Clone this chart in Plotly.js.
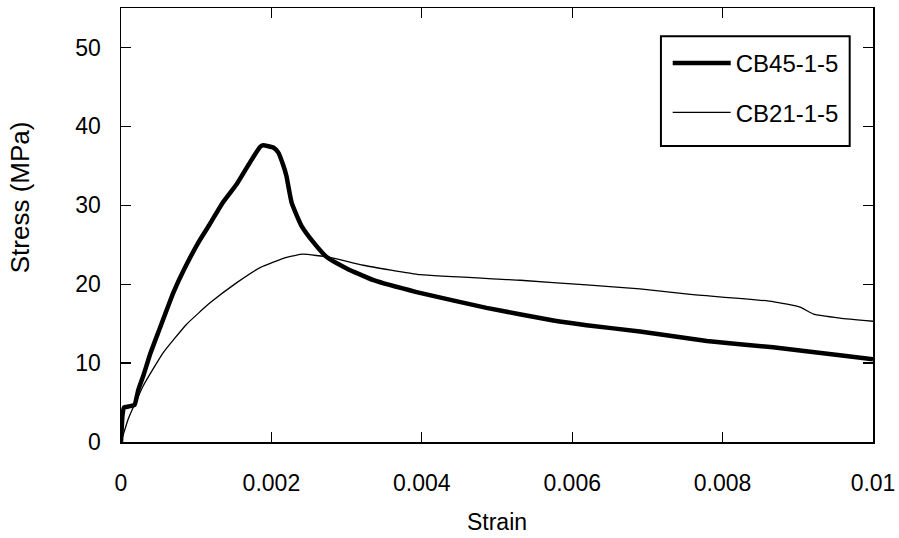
<!DOCTYPE html>
<html>
<head>
<meta charset="utf-8">
<script src="https://cdn.plot.ly/plotly-3.0.1.min.js"></script>
<style>html,body{margin:0;padding:0;background:#fff;}#chart{width:899px;height:538px;}</style>
</head>
<body>
<div id="chart"></div>
<script>
// Strain / stress readings
const cb45Strain = [0, 0.00002, 0.00004, 0.0001, 0.00018, 0.00023, 0.0003, 0.000386, 0.0005, 0.000695, 0.00083, 0.00103, 0.00118, 0.00135, 0.00154, 0.0017, 0.00185, 0.00189, 0.00203, 0.00209, 0.00216, 0.0022, 0.00227, 0.0024, 0.00256, 0.00274, 0.003, 0.00336, 0.00393, 0.00486, 0.00575, 0.00619, 0.0069, 0.00779, 0.00867, 0.00956, 0.01];
const cb45Stress = [0, 3.4, 4.4, 4.5, 4.7, 6.6, 8.5, 11.1, 14.0, 18.9, 21.7, 25.3, 27.6, 30.3, 32.7, 35.2, 37.4, 37.6, 37.3, 36.7, 35.0, 33.7, 30.3, 27.4, 25.3, 23.4, 22.0, 20.5, 19.0, 17.0, 15.4, 14.8, 14.0, 12.8, 12.0, 11.0, 10.5];

const cb21Strain = [0, 0.0001, 0.0003, 0.00056, 0.00087, 0.00118, 0.00154, 0.00185, 0.0022, 0.00242, 0.00278, 0.00322, 0.00398, 0.00531, 0.00619, 0.0069, 0.00757, 0.00867, 0.00903, 0.00921, 0.00956, 0.01];
const cb21Stress = [0, 3.0, 7.2, 11.3, 14.9, 17.6, 20.2, 22.1, 23.4, 23.8, 23.4, 22.4, 21.2, 20.5, 19.9, 19.4, 18.7, 17.8, 17.1, 16.2, 15.7, 15.3];

const seriesNames = ["CB45-1-5", "CB21-1-5"];
const xTickVals = [0, 0.002, 0.004, 0.006, 0.008, 0.01];
const xTickText = ["0", "0.002", "0.004", "0.006", "0.008", "0.01"];
const yTickVals = [0, 10, 20, 30, 40, 50];

const FONT = "Liberation Sans, Arial, sans-serif";

const traces = [
  {x: cb45Strain, y: cb45Stress, name: seriesNames[0], type: "scatter", mode: "lines",
   line: {color: "#000", width: 4.5, shape: "spline", smoothing: 0.4}, legendgroup: "a"},
  {x: cb21Strain, y: cb21Stress, name: seriesNames[1], type: "scatter", mode: "lines",
   line: {color: "#000", width: 1.3, shape: "spline", smoothing: 0.4}, legendgroup: "b"}
];

const axisCommon = {
  showline: true, linecolor: "#000", linewidth: 1.5, mirror: "ticks",
  ticks: "inside", ticklen: 10, tickwidth: 1.3, tickcolor: "#000",
  showgrid: false, zeroline: false,
  tickfont: {family: FONT, size: 23, color: "#000"}
};

const layout = {
  width: 899, height: 538,
  margin: {l: 121, r: 26, t: 8, b: 96},
  paper_bgcolor: "#fff", plot_bgcolor: "#fff",
  font: {family: FONT, color: "#000"},
  xaxis: Object.assign({}, axisCommon, {
    range: [0, 0.01], tickmode: "array", tickvals: xTickVals, ticktext: xTickText,
    ticklabelstandoff: 20,
    title: {text: "Strain", font: {family: FONT, size: 23, color: "#000"}, standoff: 19}
  }),
  yaxis: Object.assign({}, axisCommon, {
    range: [0, 55], tickmode: "array", tickvals: yTickVals,
    ticklabelstandoff: 14
  }),
  annotations: [{
    text: "Stress (MPa)", xref: "paper", yref: "paper", x: -0.135, y: 0.565,
    xanchor: "center", yanchor: "middle", textangle: -90, showarrow: false,
    font: {family: FONT, size: 26, color: "#000"}
  }],
  shapes: [{
    type: "rect", xref: "paper", yref: "paper", x0: 0.718, x1: 0.969, y0: 0.682, y1: 0.935,
    line: {color: "#000", width: 2}, fillcolor: "rgba(0,0,0,0)", layer: "above"
  }],
  showlegend: true,
  legend: {
    x: 0.727, xanchor: "left", y: 0.924, yanchor: "top",
    borderwidth: 0, bgcolor: "rgba(0,0,0,0)",
    font: {family: FONT, size: 24, color: "#000"},
    itemwidth: 58, tracegroupgap: 15
  }
};

Plotly.newPlot("chart", traces, layout, {displayModeBar: false, staticPlot: true});
</script>
</body>
</html>
